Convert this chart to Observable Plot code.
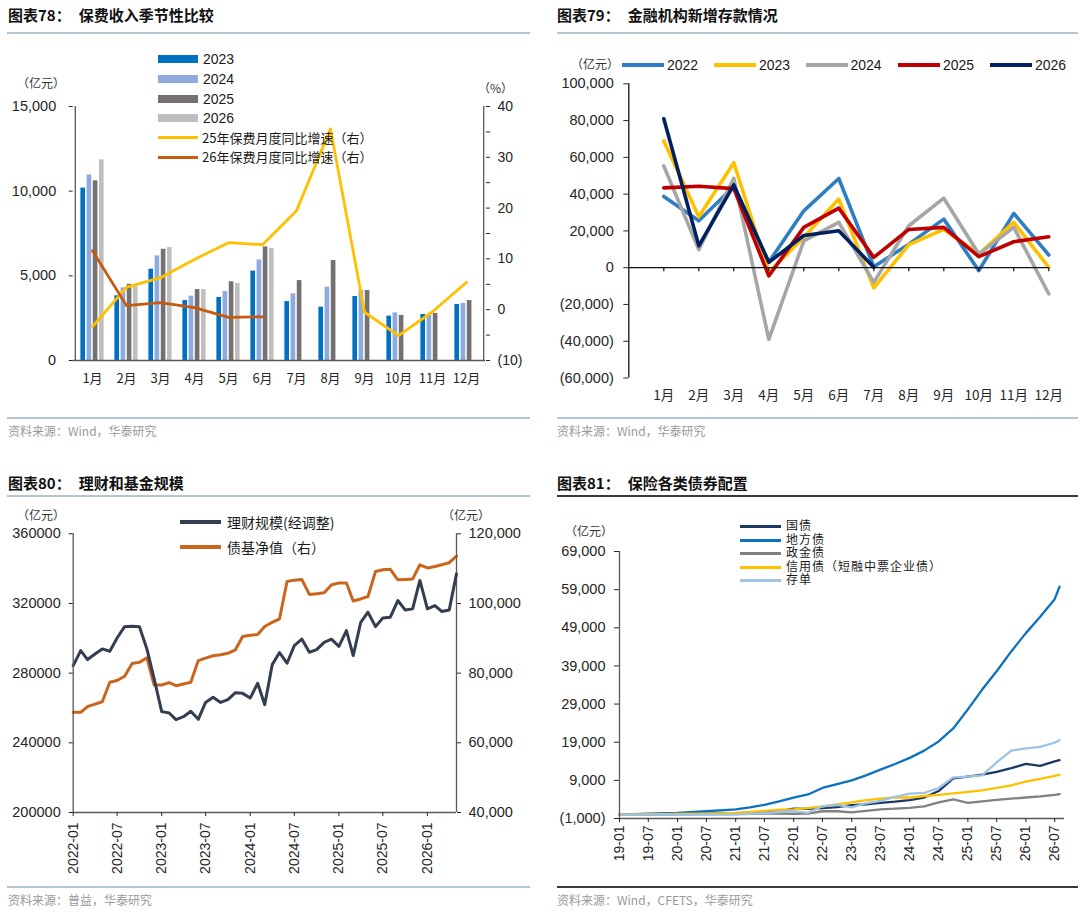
<!DOCTYPE html>
<html><head><meta charset="utf-8">
<script src="https://cdn.jsdelivr.net/npm/d3@7"></script>
<script src="https://cdn.jsdelivr.net/npm/@observablehq/plot@0.6"></script>
<style>
body{margin:0;background:#fff;}
#page{position:relative;width:1080px;height:921px;overflow:hidden;background:#fff;font-family:"Liberation Sans",Arial,sans-serif;color:#262626;}
.abs{position:absolute;white-space:nowrap;}
.ttl{font-family:"Noto Sans CJK SC",sans-serif;font-weight:700;font-size:15px;color:#111;line-height:20px;}
.src{font-family:"Noto Sans CJK SC",sans-serif;font-size:12px;color:#9a9a9a;line-height:16px;}
.rule{position:absolute;height:2px;background:#B5C6D3;}
.rule.dark{background:#3a3a3a;}
.unit{font-family:"Noto Sans CJK SC",sans-serif;font-size:12px;color:#333;line-height:16px;}
.lg{font-size:14px;line-height:18px;color:#1a1a1a;}
.lgc{font-family:"Noto Sans CJK SC",sans-serif;font-size:13px;line-height:18px;color:#1a1a1a;}
.lgs{font-family:"Liberation Sans","Noto Sans CJK SC",sans-serif;font-size:12px;line-height:13px;height:13px;letter-spacing:1px;color:#1a1a1a;}
.sw{position:absolute;}
svg{overflow:visible;}
</style></head>
<body><div id="page"></div>
<script>
// ---------- Chart 78 data ----------
const months = ["1月","2月","3月","4月","5月","6月","7月","8月","9月","10月","11月","12月"];
const barYears = ["2023","2024","2025","2026"];
const prem2023 = [10180, 3820, 5390, 3540, 3720, 5280, 3480, 3150, 3780, 2620, 2720, 3310];
const prem2024 = [10960, 4290, 6180, 3800, 4070, 5940, 3940, 4330, 4130, 2810, 2720, 3370];
const prem2025 = [10610, 4500, 6570, 4190, 4650, 6710, 4720, 5900, 4130, 2660, 2780, 3540];
const prem2026 = [11850, 4350, 6670, 4190, 4550, 6610];
const growth25 = [-3.3, 4.4, 6.3, 9.9, 13.2, 12.8, 19.5, 35.6, -0.5, -5.1, -0.4, 5.4];
const growth26 = [11.6, 0.8, 1.4, 0.4, -1.5, -1.4];
const leftTicks78 = [0, 5000, 10000, 15000];
const rightTicks78 = [-10, 0, 10, 20, 30, 40];
const rightMinor78 = [-5, 5, 15, 25, 35];

// ---------- Chart 79 data ----------
const monthNums = [1,2,3,4,5,6,7,8,9,10,11,12];
const dep2022 = [38700, 25500, 44100, 3000, 30900, 48500, 500, 12800, 26400, -1600, 29500, 6900];
const dep2023 = [68900, 27700, 57100, -2500, 16500, 37300, -11000, 12500, 20800, 7400, 24600, 200];
const dep2024 = [55300, 9800, 48600, -39000, 14600, 24600, -8000, 22800, 37800, 7400, 21900, -14300];
const dep2025 = [43400, 44300, 43000, -4500, 21900, 32400, 5600, 20800, 21900, 6000, 14100, 16800];
const dep2026 = [81000, 11900, 45000, 2900, 17500, 20100, 200];
const ticks79 = [-60000, -40000, -20000, 0, 20000, 40000, 60000, 80000, 100000];

// ---------- Chart 80 data (monthly from 2022-01) ----------
const start80 = "2022-01-01";
const wealth = [284300, 292900, 287800, 291000, 293900, 292600, 300200, 306700, 306900, 306700, 293900, 276700,
  257900, 257100, 253300, 255000, 258100, 253500, 263200, 266100, 263200, 264800, 268800, 268400,
  265700, 274200, 261900, 284900, 291800, 285700, 295800, 299600, 292000, 293500, 297700, 299500,
  295400, 304400, 290100, 309200, 315000, 306700, 311700, 312100, 321700, 316300, 316900, 333200,
  316900, 318800, 315400, 316300, 337000];
const bondFund = [68750, 68750, 70400, 71100, 71800, 77400, 77900, 79100, 82800, 83100, 84400, 76600,
  76600, 77300, 76400, 76900, 77400, 83600, 84300, 85000, 85300, 85700, 86700, 90500,
  90900, 91100, 93400, 94600, 95600, 106300, 106700, 106900, 102600, 102800, 103100, 105300,
  105900, 105900, 100700, 101300, 102000, 109200, 109700, 109800, 106800, 106900, 107000, 111100,
  110200, 110600, 111100, 111700, 113600];
const leftTicks80 = [200000, 240000, 280000, 320000, 360000];
const rightTicks80 = [40000, 60000, 80000, 100000, 120000];

// ---------- Chart 81 data ----------
const dates81 = ["2019-01","2019-07","2020-01","2020-07","2021-01","2021-04","2021-07","2021-10","2022-01","2022-04","2022-07","2022-10",
  "2023-01","2023-04","2023-07","2023-10","2024-01","2024-04","2024-07","2024-10","2025-01","2025-04","2025-07","2025-10",
  "2026-01","2026-04","2026-07","2026-08"];
const govBond   = [0, 100, 200, 300, 400, 500, 600, 900, 1600, 1500, 1700, 2000, 2500, 2700, 3100, 3400, 3800, 4500, 6200, 9500, 10000, 10500, 11200, 12200, 13300, 12800, 14000, 14300];
const localBond = [0, 300, 500, 900, 1400, 1900, 2600, 3500, 4500, 5300, 7000, 8000, 9000, 10300, 11800, 13300, 14900, 16800, 19200, 22600, 27600, 32800, 37600, 42800, 47600, 51900, 56500, 59800];
const policyBond= [0, 50, 100, 150, 200, 250, 300, 300, 200, 300, 900, 900, 600, 1000, 1400, 1600, 1800, 2200, 3200, 4000, 3100, 3500, 3900, 4200, 4500, 4800, 5200, 5400];
const creditBond= [0, 100, 200, 300, 500, 700, 1000, 1300, 1400, 1700, 2200, 2700, 3200, 3800, 4200, 4500, 4500, 4900, 5200, 5600, 6000, 6400, 7000, 7700, 8700, 9400, 10200, 10500];
const ncd       = [0, 0, 0, 0, 0, 200, 400, 700, 900, 500, 2200, 2600, 1900, 3000, 3600, 4700, 5500, 5700, 7000, 9800, 10000, 10300, 13700, 16800, 17400, 17800, 18900, 19500];
const ticks81 = [-1000, 9000, 19000, 29000, 39000, 49000, 59000, 69000];

// ---------- helpers ----------
const page = document.getElementById("page");
function add(html, cls, left, top, extra) {
  const d = document.createElement("div");
  d.className = "abs " + (cls || "");
  d.innerHTML = html;
  d.style.left = left + "px"; d.style.top = top + "px";
  if (extra) Object.assign(d.style, extra);
  page.appendChild(d); return d;
}
function rule(left, top, width, dark) {
  const d = document.createElement("div");
  d.className = "rule" + (dark ? " dark" : "");
  Object.assign(d.style, {left: left+"px", top: top+"px", width: width+"px"});
  page.appendChild(d);
}
function sw(left, top, w, h, color) {
  const d = document.createElement("div");
  d.className = "sw";
  Object.assign(d.style, {left: left+"px", top: top+"px", width: w+"px", height: h+"px", background: color});
  page.appendChild(d);
}
function placeSvg(svg, left, top) {
  svg.style.position = "absolute"; svg.style.left = left + "px"; svg.style.top = top + "px";
  page.appendChild(svg);
}
const fmtC = d3.format(",");
const paren = d => d < 0 ? "(" + fmtC(-d) + ")" : fmtC(d);
const baseStyle = {fontFamily: "'Liberation Sans', Arial, sans-serif", fontSize: "14px", color: "#262626", background: "none", overflow: "visible"};

// ---------- titles / footers ----------
add('图表78：<span style="margin-left:8px">保费收入季节性比较</span>', "ttl", 8, 5);
add('图表79：<span style="margin-left:8px">金融机构新增存款情况</span>', "ttl", 557, 5);
rule(7, 32, 523); rule(557, 32, 521);
rule(7, 417, 523); rule(557, 417, 521);
add("资料来源：Wind，华泰研究", "src", 8, 423);
add("资料来源：Wind，华泰研究", "src", 557, 423);
add('图表80：<span style="margin-left:8px">理财和基金规模</span>', "ttl", 8, 473);
add('图表81：<span style="margin-left:8px">保险各类债券配置</span>', "ttl", 557, 473);
rule(7, 495, 523); rule(557, 495, 521, true);
rule(7, 886, 523); rule(557, 886, 521, true);
add("资料来源：普益，华泰研究", "src", 8, 892);
add("资料来源：Wind，CFETS，华泰研究", "src", 557, 892);

// ---------- Chart 78 ----------
{
  const W = 540, H = 360, ML = 72.7, MR = 55, MT = 66, MB = 40;
  const bw = (W - ML - MR) / 12, barW = 5, gap = 6.2;
  const barColors = ["#0070C0", "#8FAADC", "#767171", "#BFBFBF"];
  const series = [prem2023, prem2024, prem2025, prem2026];
  const base = Plot.plot({
    width: W, height: H, marginLeft: ML, marginRight: MR, marginTop: MT, marginBottom: MB,
    style: baseStyle,
    x: {type: "band", domain: months, padding: 0},
    y: {domain: [0, 15000]},
    marks: [
      ...series.map((vals, k) => Plot.barY(vals.map((v, i) => ({m: months[i], v, yr: barYears[k]})), {
        x: "m", y: "v", fill: barColors[k], insetLeft: (bw - barW) / 2, insetRight: (bw - barW) / 2, dx: (k - 1.5) * gap
      })),
      Plot.ruleY([0], {stroke: "#595959", strokeWidth: 1.3}),
      Plot.ruleX([months[0]], {dx: -bw / 2, stroke: "#595959", strokeWidth: 1.3}),
      Plot.axisY({ticks: leftTicks78, tickFormat: fmtC, tickSize: 4, tickPadding: 13, fontSize: 14.5, label: null}),
      Plot.axisX({tickSize: 0, tickPadding: 13, fontSize: 13, fontFamily: "'Noto Sans CJK SC', sans-serif", label: null})
    ]
  });
  placeSvg(base, 0, 40);
  const over = Plot.plot({
    width: W, height: H, marginLeft: ML, marginRight: MR, marginTop: MT, marginBottom: MB,
    style: baseStyle,
    x: {type: "band", domain: months, padding: 0, axis: null},
    y: {domain: [-10, 40]},
    marks: [
      Plot.line(growth25.map((v, i) => ({m: months[i], v})), {x: "m", y: "v", stroke: "#FFC000", strokeWidth: 2.8}),
      Plot.line(growth26.map((v, i) => ({m: months[i], v})), {x: "m", y: "v", stroke: "#C55A11", strokeWidth: 2.8}),
      Plot.ruleX([months[11]], {dx: bw / 2, stroke: "#595959", strokeWidth: 1.3}),
      Plot.axisY({anchor: "right", ticks: rightTicks78, tickFormat: paren, tickSize: 4, tickPadding: 8, fontSize: 14, label: null}),
      Plot.axisY({anchor: "right", ticks: rightMinor78, tickFormat: () => "", tickSize: 4, label: null})
    ]
  });
  placeSvg(over, 0, 40);
  add("（亿元）", "unit", 17, 75);
  add("（%）", "unit", 478, 80);
  // legend
  const rows = [59, 79, 98.5, 118, 137.7, 157.3];
  barYears.forEach((y, k) => { sw(158, rows[k] - 4, 40, 8, barColors[k]); add(y, "lg", 203, rows[k] - 9); });
  sw(158, rows[4] - 1.5, 40, 3, "#FFC000"); add("25年保费月度同比增速（右）", "lgc", 202, rows[4] - 9);
  sw(158, rows[5] - 1.5, 40, 3, "#C55A11"); add("26年保费月度同比增速（右）", "lgc", 202, rows[5] - 9);
}

// ---------- Chart 79 ----------
{
  const W = 530, H = 370;
  const colors = ["#2E7EC4", "#FFC000", "#A6A6A6", "#C00000", "#002060"];
  const names = ["2022", "2023", "2024", "2025", "2026"];
  const series = [dep2022, dep2023, dep2024, dep2025, dep2026];
  const p = Plot.plot({
    width: W, height: H, marginLeft: 78.3, marginRight: 31.7, marginTop: 43.3, marginBottom: 32.5,
    style: baseStyle,
    x: {domain: [0, 12]},
    y: {domain: [-60000, 100000]},
    marks: [
      ...series.map((vals, k) => Plot.line(vals.map((v, i) => ({m: monthNums[i], v})), {
        x: "m", y: "v", stroke: colors[k], strokeWidth: 3.6, strokeLinejoin: "round"
      })),
      Plot.ruleY([0], {stroke: "#111", strokeWidth: 1.3}),
      Plot.ruleX(monthNums, {x: d => d, y1: 0, y2: 0, insetBottom: -4, stroke: "#111", strokeWidth: 1.2}),
      Plot.ruleX([0], {stroke: "#111", strokeWidth: 1.3}),
      Plot.axisY({ticks: ticks79, tickFormat: paren, tickSize: 5, tickPadding: 10, fontSize: 14.5, label: null}),
      Plot.axisX({ticks: monthNums, tickFormat: d => d + "月", tickSize: 0, tickPadding: 12, fontSize: 13.5, fontFamily: "'Noto Sans CJK SC', sans-serif", label: null})
    ]
  });
  placeSvg(p, 550, 40);
  add("（亿元）", "unit", 571, 56);
  const sx = [622, 714, 805.5, 898, 990];
  names.forEach((n, k) => { sw(sx[k], 62.5, 42, 4, colors[k]); add(n, "lg", sx[k] + 45, 55.5); });
}

// ---------- Chart 80 ----------
{
  const W = 540, H = 390, ML = 72.7, MR = 84, MT = 33.3, MB = 78;
  const t0 = new Date(start80 + "T00:00:00Z");
  const xDom = [t0, d3.utcMonth.offset(t0, wealth.length - 1)];
  const over = Plot.plot({
    width: W, height: H, marginLeft: ML, marginRight: MR, marginTop: MT, marginBottom: MB,
    style: baseStyle,
    x: {type: "utc", domain: xDom, axis: null},
    y: {domain: [40000, 120000]},
    marks: [
      Plot.line(bondFund.map((v, i) => ({d: d3.utcMonth.offset(t0, i), v})), {x: "d", y: "v", stroke: "#C9651C", strokeWidth: 3}),
      Plot.ruleX([xDom[1]], {stroke: "#595959", strokeWidth: 1.3}),
      Plot.axisY({anchor: "right", ticks: rightTicks80, tickFormat: fmtC, tickSize: 4, tickPadding: 8, fontSize: 14.5, label: null})
    ]
  });
  placeSvg(over, 0, 500);
  const base = Plot.plot({
    width: W, height: H, marginLeft: ML, marginRight: MR, marginTop: MT, marginBottom: MB,
    style: baseStyle,
    x: {type: "utc", domain: xDom},
    y: {domain: [200000, 360000]},
    marks: [
      Plot.line(wealth.map((v, i) => ({d: d3.utcMonth.offset(t0, i), v})), {x: "d", y: "v", stroke: "#333F50", strokeWidth: 3}),
      Plot.ruleX([xDom[0]], {stroke: "#595959", strokeWidth: 1.3}),
      Plot.ruleY([200000], {stroke: "#595959", strokeWidth: 1.3}),
      Plot.axisY({ticks: leftTicks80, tickFormat: d => String(d), tickSize: 4, tickPadding: 8.5, fontSize: 14.5, label: null}),
      Plot.axisX({ticks: d3.utcMonth.every(6), tickFormat: d3.utcFormat("%Y-%m"), tickRotate: -90, tickSize: 4, tickPadding: 6, fontSize: 14, label: null})
    ]
  });
  placeSvg(base, 0, 500);
  add("（亿元）", "unit", 17, 507);
  add("（亿元）", "unit", 442, 507);
  sw(180, 520, 41, 4, "#333F50"); add("理财规模(经调整)", "lgc", 227, 513, {fontSize: "14px"});
  sw(180, 545, 41, 4, "#C9651C"); add("债基净值（右）", "lgc", 227, 538, {fontSize: "14px"});
}

// ---------- Chart 81 ----------
{
  const W = 530, H = 390;
  const dts = dates81.map(s => new Date(s + "-01T00:00:00Z"));
  const names = ["国债", "地方债", "政金债", "信用债（短融中票企业债）", "存单"];
  const colors = ["#1B3A63", "#0C72C0", "#808080", "#FFC000", "#9DC3E6"];
  const series = [govBond, localBond, policyBond, creditBond, ncd];
  const xDom = [new Date("2019-01-01T00:00:00Z"), new Date("2026-09-01T00:00:00Z")];
  const p = Plot.plot({
    width: W, height: H, marginLeft: 69, marginRight: 16, marginTop: 51, marginBottom: 72,
    style: baseStyle,
    x: {type: "utc", domain: xDom},
    y: {domain: [-1000, 69000]},
    marks: [
      ...series.map((vals, k) => Plot.line(vals.map((v, i) => ({d: dts[i], v})), {x: "d", y: "v", stroke: colors[k], strokeWidth: 2.3})),
      Plot.ruleX([xDom[0]], {stroke: "#595959", strokeWidth: 1.3}),
      Plot.ruleY([-1000], {stroke: "#595959", strokeWidth: 1.3}),
      Plot.axisY({ticks: ticks81, tickFormat: paren, tickSize: 5, tickPadding: 9, fontSize: 14.5, label: null}),
      Plot.axisX({ticks: d3.utcMonth.every(6), tickFormat: d3.utcFormat("%y-%m"), tickRotate: -90, tickSize: 4, tickPadding: 3, fontSize: 14, label: null})
    ]
  });
  placeSvg(p, 550, 500);
  add("（亿元）", "unit", 565, 523);
  const rows = [526.5, 540, 553.5, 567, 580.5];
  names.forEach((n, k) => { sw(740, rows[k] - 1.5, 41, 3, colors[k]); add(n, "lgs", 786, rows[k] - 6.5); });
}
</script>
</body></html>
